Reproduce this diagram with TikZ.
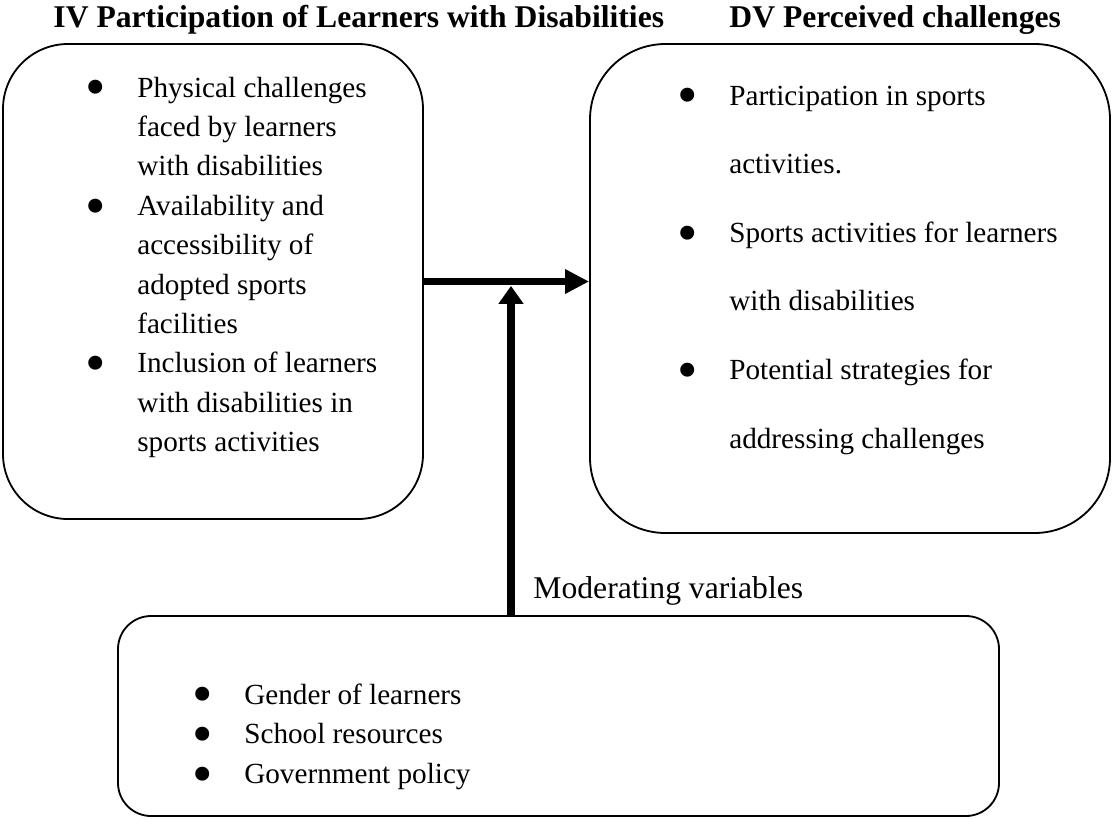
\documentclass[tikz,border=0pt]{standalone}
\usepackage{graphicx}
\usepackage{fontspec}
\setmainfont{Liberation Serif}
\usetikzlibrary{arrows.meta,fit}

% larger list bullet, sitting at x-height
\newcommand{\bul}{\smash{\raisebox{-4.1pt}{\scalebox{2}{\textbullet}}}}

\begin{document}
\begin{tikzpicture}[x=0.411pt, y=-0.411pt,
  box/.style={draw, line width=0.75pt, inner sep=0pt},
  items/.style={inner sep=0pt, anchor=base west},
  heading/.style={inner sep=0pt, anchor=base west, font=\fontsize{13}{15}\selectfont\bfseries},
  flow/.style={line width=2.9pt}]
  \useasboundingbox (0,0) rectangle (1112,818);

  % Headings
  \node[heading] (ivhead) at (53,27) {IV Participation of Learners with Disabilities};
  \node[heading] (dvhead) at (729,27) {DV Perceived challenges};

  % Boxes
  \node[box, rounded corners=26.7pt, fit={(3,44) (423,519)}] (iv) {};
  \node[box, rounded corners=31pt, fit={(590,44) (1110,533)}] (dv) {};
  \node[box, rounded corners=13.6pt, fit={(118,616) (999,816)}] (mv) {};

  % Bullet lists
  \node[items, font=\fontsize{12}{16.2}\selectfont] (ivlist) at (85,97) {%
    \begin{tabular}[t]{@{}p{21.3pt}@{}l@{}}
      \bul & Physical challenges\\
           & faced by learners\\
           & with disabilities\\
      \bul & Availability and\\
           & accessibility of\\
           & adopted sports\\
           & facilities\\
      \bul & Inclusion of learners\\
           & with disabilities in\\
           & sports activities
    \end{tabular}};
  \node[items, font=\fontsize{12}{28.2}\selectfont] (dvlist) at (677,105) {%
    \begin{tabular}[t]{@{}p{21.3pt}@{}l@{}}
      \bul & Participation in sports\\
           & activities.\\
      \bul & Sports activities for learners\\
           & with disabilities\\
      \bul & Potential strategies for\\
           & addressing challenges
    \end{tabular}};
  \node[items, font=\fontsize{12}{16.4}\selectfont] (mvlist) at (192,704) {%
    \begin{tabular}[t]{@{}p{21.3pt}@{}l@{}}
      \bul & Gender of learners\\
      \bul & School resources\\
      \bul & Government policy
    \end{tabular}};

  % Arrows
  \coordinate (meet) at (511,282);
  \draw[flow, -{Triangle[length=9.9pt,width=9.5pt]}] (iv.east) -- (iv.east -| dv.west);
  \draw[flow, -{Triangle[length=7.4pt,width=9.9pt]}, shorten >=1.6pt] (mv.north -| meet) -- (meet);
  \node[inner sep=0pt, anchor=base west, font=\fontsize{13}{15}\selectfont] (mvlabel) at (533,598) {Moderating variables};
\end{tikzpicture}
\end{document}
